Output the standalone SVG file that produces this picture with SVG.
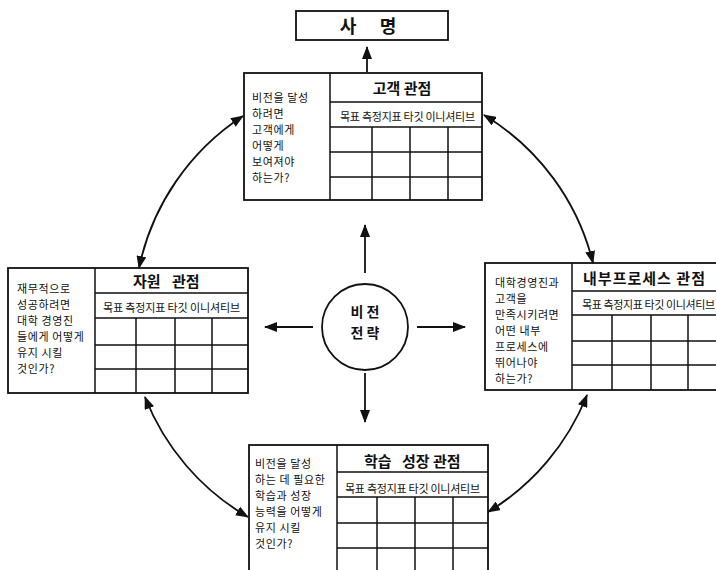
<svg xmlns="http://www.w3.org/2000/svg" width="716" height="570" viewBox="0 0 716 570">
<style>
.bx{fill:#fff;stroke:#111;stroke-width:1.8}
.ln{stroke:#111;stroke-width:1.5;fill:none}
.q{font-family:"Noto Sans CJK KR","Noto Sans",sans-serif;font-size:11px;letter-spacing:0.6px;fill:#111}
.t{font-family:"Noto Sans CJK KR","Noto Sans",sans-serif;font-size:15px;font-weight:bold;fill:#111}
.h{font-family:"Noto Sans CJK KR","Noto Sans",sans-serif;font-size:11px;fill:#111}
.c{font-family:"Noto Sans CJK KR","Noto Sans",sans-serif;font-weight:bold;fill:#111;text-anchor:middle}
.ar{stroke:#111;stroke-width:1.8;fill:none}
</style>
<defs>
<marker id="ah" markerUnits="userSpaceOnUse" markerWidth="13" markerHeight="10" refX="12" refY="5" orient="auto-start-reverse">
<path d="M0,0 L13,5 L0,10 z" fill="#111"/>
</marker>
</defs>
<rect width="716" height="570" fill="#fff"/>

<g id="mission">
<rect class="bx" x="296" y="11" width="152" height="29"/>
<text class="c" x="348" y="33" font-size="18">사</text>
<text class="c" x="388" y="33" font-size="18">명</text>
</g>

<g id="vision">
<circle cx="365" cy="327" r="43" fill="#fff" stroke="#111" stroke-width="1.8"/>
<text class="c" x="365" y="317" font-size="14">비 전</text>
<text class="c" x="365" y="338" font-size="14">전 략</text>
</g>

<g id="customer">
<rect class="bx" x="244" y="73" width="238" height="127"/>
<path class="ln" d="M330 73V200M330 102H482M330 127H482M330 152H482M330 177H482M372 127V200M410 127V200M448 127V200"/>
<text class="t" x="402" y="94" text-anchor="middle">고객 관점</text>
<text class="h" x="340" y="121" textLength="135">목표 측정지표 타깃 이니셔티브</text>
<text class="q" x="252" y="102">비전을 달성</text>
<text class="q" x="252" y="118">하려면</text>
<text class="q" x="252" y="134">고객에게</text>
<text class="q" x="252" y="150">어떻게</text>
<text class="q" x="252" y="166">보여져야</text>
<text class="q" x="252" y="182">하는가?</text>
</g>

<g id="resource">
<rect class="bx" x="8" y="268" width="240" height="125"/>
<path class="ln" d="M95 268V393M95 293H248M95 318H248M95 345H248M95 369H248M136 318V393M175 318V393M212 318V393"/>
<text class="t" font-size="16" y="287"><tspan x="133">자원</tspan><tspan x="172">관점</tspan></text>
<text class="h" x="103" y="312" textLength="137">목표 측정지표 타깃 이니셔티브</text>
<text class="q" x="17" y="293">재무적으로</text>
<text class="q" x="17" y="309">성공하려면</text>
<text class="q" x="17" y="325">대학 경영진</text>
<text class="q" x="17" y="341">들에게 어떻게</text>
<text class="q" x="17" y="357">유지 시킬</text>
<text class="q" x="17" y="373">것인가?</text>
</g>

<g id="process">
<rect class="bx" x="485" y="263" width="245" height="127"/>
<path class="ln" d="M572 263V390M572 291H730M572 315H730M572 341H730M572 365H730M612 315V390M651 315V390M688 315V390"/>
<text class="t" x="583" y="284" textLength="122">내부프로세스 관점</text>
<text class="h" x="582" y="309" textLength="133">목표 측정지표 타깃 이니셔티브</text>
<text class="q" x="495" y="287">대학경영진과</text>
<text class="q" x="495" y="303">고객을</text>
<text class="q" x="495" y="319">만족시키려면</text>
<text class="q" x="495" y="335">어떤 내부</text>
<text class="q" x="495" y="351">프로세스에</text>
<text class="q" x="495" y="367">뛰어나야</text>
<text class="q" x="495" y="383">하는가?</text>
</g>

<g id="learning">
<rect class="bx" x="249" y="445" width="239" height="140"/>
<path class="ln" d="M337 445V585M337 472H488M337 497H488M337 523H488M337 548H488M377 497V585M415 497V585M453 497V585"/>
<text class="t" y="467"><tspan x="364">학습</tspan><tspan x="402">성장 관점</tspan></text>
<text class="h" x="345" y="493" textLength="135">목표 측정지표 타깃 이니셔티브</text>
<text class="q" x="255" y="468">비전을 달성</text>
<text class="q" x="255" y="484">하는 데 필요한</text>
<text class="q" x="255" y="500">학습과 성장</text>
<text class="q" x="255" y="516">능력을 어떻게</text>
<text class="q" x="255" y="532">유지 시킬</text>
<text class="q" x="255" y="548">것인가?</text>
</g>

<g id="connectors">
<path class="ar" d="M367 72V47" marker-end="url(#ah)"/>
<path class="ar" d="M365 273V225" marker-end="url(#ah)"/>
<path class="ar" d="M313 327H265" marker-end="url(#ah)"/>
<path class="ar" d="M417 327H465" marker-end="url(#ah)"/>
<path class="ar" d="M365 373V422" marker-end="url(#ah)"/>
<path class="ar" d="M243 116A240 240 0 0 0 139 268" marker-start="url(#ah)" marker-end="url(#ah)"/>
<path class="ar" d="M484 115A240 240 0 0 1 593 263" marker-start="url(#ah)" marker-end="url(#ah)"/>
<path class="ar" d="M145 397A240 240 0 0 0 248 517" marker-start="url(#ah)" marker-end="url(#ah)"/>
<path class="ar" d="M587 395A240 240 0 0 1 488 512" marker-start="url(#ah)" marker-end="url(#ah)"/>
</g>
</svg>
